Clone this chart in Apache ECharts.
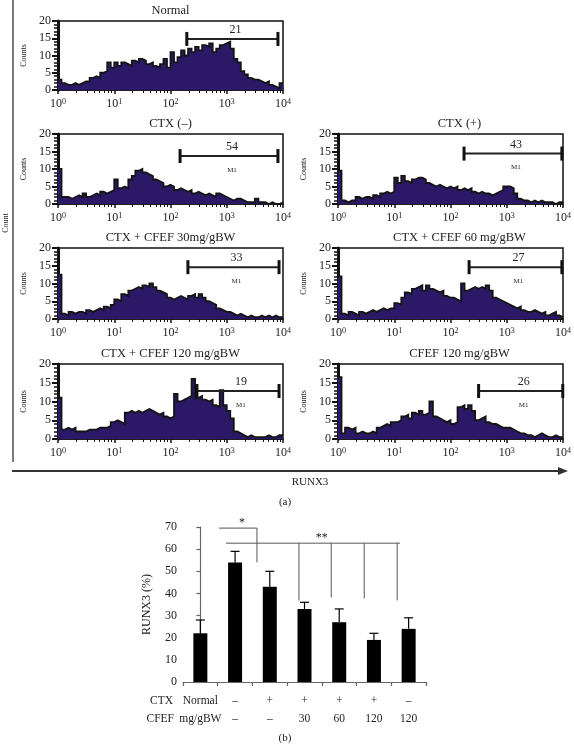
<!DOCTYPE html>
<html><head><meta charset="utf-8">
<script src="https://cdn.jsdelivr.net/npm/echarts@6/dist/echarts.min.js"></script>
<style>html,body{margin:0;padding:0;background:#fff}#c{width:574px;height:744px}</style>
</head><body><div id="c"></div>
<script>
// ---------- DATA ----------
// Histogram panel titles
const panelTitles = ['Normal','CTX (–)','CTX (+)','CTX + CFEF 30mg/gBW','CTX + CFEF 60 mg/gBW','CTX + CFEF 120 mg/gBW','CFEF 120 mg/gBW'];
// Counts per channel (64 log-spaced channels, 16 per decade, 10^0 .. 10^4)
const histNormal = [3,2,1.5,1.5,2,1.5,2,2.5, 2.5,3.5,4,3.5,5,5.5,8,6.5, 8,7,8,7.5,7,8.5,8,9, 8.5,7.5,8,7,6.5,7.5,9,6.5, 11,8,9.5,11.5,10,12,11,12.5, 11.5,13,12.5,13.5,11,12,13,13.5, 14,12,9,8,5.5,4.5,3.5,3, 3,2.5,2,2.5,1.5,1,0.5,2];
const histCtxNeg = [10,2,2,1.5,2,2.5,2,3, 2,2.5,3,2.5,3.5,3,3.5,4, 7,4.5,5,4.5,7,8,9.5,10, 9,8.5,8,7,6.5,6,5,5.5, 5,4,4.5,4,3.5,4,3,3.5, 3,2.5,3,2.5,2,3,2.5,2, 1.5,1,1.5,1.5,1,0.5,0.5,0.5, 1.5,0.5,0.5,0,0.5,0,0,0.5];
const histCtxPos = [9.5,1,0.5,1,1,2,1.5,2, 2,1.5,2.5,2,3,3.5,3,3.5, 7.5,6,8,6.5,6,7,7.5,7.5, 7,6,5.5,5,5.5,5,4.5,5, 4.5,5,4,4.5,4,4.5,3.5,3, 3.5,3,3,2.5,3,3.5,4,5, 5,4.5,3,1.5,1,1,0.5,1, 0.5,1,0.5,0.5,0.5,0,0.5,0.5];
const histCfef30 = [12.5,1.5,1,2,1.5,2,2,1.5, 2.5,2,2.5,3,2.5,3.5,3,4, 5.5,5,7,6.5,8,8.5,9,8.5, 9.5,9,10,9,8,7.5,7,6, 5.5,6,6.5,6,5.5,6.5,7,6, 7,6,5,4.5,4,3,2.5,2, 2,1.5,1,1.5,1,0.5,1,0.5, 0.5,1,0.5,1,0.5,1,0.5,0.5];
const histCfef60 = [12,1.5,1,2,1.5,1,2,1.5, 2,2.5,2,2.5,3,2.5,3,3, 4.5,4,6,7.5,7,8.5,9,9.5, 8,9.5,8.5,8,7.5,8,6.5,6, 6,5.5,5,10,8,8.5,9,8.5, 9,8.5,9.5,8,6,5.5,5,4.5, 4,3.5,3,3.5,2.5,2,2,2.5, 2,1.5,2,1,1.5,2,1,0.5];
const histCfef120 = [11,2.5,3,2.5,3,2,2,2, 2.5,2.5,2.5,3,3,3,3.5,4.5, 5,4.5,4,7,7.5,7,7.5,7, 7.5,8,7.5,7,6.5,7,6,5.5, 6,12,10,10.5,11,11.5,16,11, 11.5,10.5,10,10.5,9,8.5,13,9, 7.5,5.5,2,1.5,1,0.5,1,0.5, 0.5,0.5,0.5,1,0.5,0.5,1,1];
const histCfefOnly = [16.5,1.5,3,2.5,3,1.5,2,1.5, 1.5,2,1.5,3,3.5,4,3.5,4.5, 4.5,5,6,6.5,5.5,7,6.5,7.5, 6.5,7,10,6,5.5,5,4.5,5, 4,4.5,8.5,9,8,9,7.5,5, 5.5,6,4.5,4,4,3.5,3,3, 3,2.5,2,1.5,1.5,1,1,0.5, 1,1.5,1,0.5,0.5,1,0.5,0.5];
const histograms = [histNormal, histCtxNeg, histCtxPos, histCfef30, histCfef60, histCfef120, histCfefOnly];
// M1 marker gates (fluorescence units) and percent
const markerStart = [195,148,174,204,214,295,316];
const markerEnd   = [8130,8130,9550,8500,9550,8500,9900];
const markerLevel = [14.8,13.7,14.4,14.6,14.6,12.8,12.8];
const markerPct   = ['21','54','43','33','27','19','26'];
const markerHasM1 = [false,true,true,true,true,true,true];
// Histogram axis ticks
const histYTicks = [0,5,10,15,20];
const histXDecades = [0,1,2,3,4];

// Bar chart (b)
const barGroups = ['Normal','CTX','CTX+','CTX+30','CTX+60','CTX+120','CFEF120'];
const ctxRow  = ['Normal','–','+','+','+','+','–'];
const cfefRow = ['mg/gBW','–','–','30','60','120','120'];
const runx3Mean = [22,54,43,33,27,19,24];
const runx3ErrTop = [28,59,50,36,33,22,29];
const barYTicks = [0,10,20,30,40,50,60,70];
// significance brackets: [x1,y1,x2,y2] in (group index, %) units
const sigSegments = [
  [0.54,69.5,1.63,69.5],[1.63,69.5,1.63,54],
  [0.74,62.7,5.75,62.7],[2.84,62.7,2.84,36.8],[3.77,62.7,3.77,38.2],[4.72,62.7,4.72,37.7],[5.67,62.7,5.67,36.8]
];
const sigMarkPos = [[1.2,72.0],[3.5,65.0]];
const sigMarkText = ['*','**'];

// ---------- LAYOUT ----------
const FONT = "'Liberation Serif','DejaVu Serif',serif";
const TXT = '#222';
const colL = 58, colR = 338, colW = [225, 227];
const rows = [{top:21,h:69},{top:134,h:70},{top:248,h:71},{top:364,h:75}];
const panelPos = [[0,0],[0,1],[1,1],[0,2],[1,2],[0,3],[1,3]]; // [col,row]
const barGrid = {left:183, top:527, width:243, height:155};

const chart = echarts.init(document.getElementById('c'), null, {renderer:'canvas'});
const grids=[], xAxes=[], yAxes=[], series=[], graphic=[];

panelPos.forEach(([c,r],k)=>{
  const left = c===0?colL:colR, width = colW[c];
  const g = {left, top:rows[r].top, width, height:rows[r].h, show:true, borderColor:'#111', borderWidth:1.5, backgroundColor:'transparent', containLabel:false};
  grids.push(g);
  xAxes.push({type:'log', logBase:10, gridIndex:k, min:Math.pow(10,histXDecades[0]), max:Math.pow(10,histXDecades[histXDecades.length-1]),
    axisLine:{show:true, lineStyle:{color:'#111', width:1.5}},
    axisTick:{show:true, length:4, lineStyle:{color:'#111', width:1.5}},
    minorTick:{show:true, splitNumber:8, length:3, lineStyle:{color:'#111', width:1}},
    splitLine:{show:false}, minorSplitLine:{show:false},
    axisLabel:{margin:8, color:TXT, fontFamily:FONT, fontSize:12,
      formatter:v=>'{b|10}{s|'+Math.round(Math.log10(v))+'}',
      rich:{b:{fontFamily:FONT,fontSize:12,color:TXT}, s:{fontFamily:FONT,fontSize:8,color:TXT,verticalAlign:'top'}}}
  });
  yAxes.push({type:'value', gridIndex:k, min:histYTicks[0], max:histYTicks[histYTicks.length-1], interval:histYTicks[1]-histYTicks[0],
    axisLine:{show:true, lineStyle:{color:'#111', width:3}},
    axisTick:{show:true, length:6, lineStyle:{color:'#111', width:2}},
    minorTick:{show:true, splitNumber:5, length:4, lineStyle:{color:'#111', width:1.5}},
    splitLine:{show:false}, minorSplitLine:{show:false},
    axisLabel:{margin:7, color:TXT, fontFamily:FONT, fontSize:12},
    name:'Counts', nameLocation:'middle', nameGap:30, nameTextStyle:{fontFamily:FONT, fontSize:8, color:TXT}
  });
  const h = histograms[k];
  // explicit step outline: each channel spans [10^(i/16), 10^((i+1)/16)]
  const data = [];
  h.forEach((v,i)=>{ data.push([Math.pow(10,i/16), v]); data.push([Math.pow(10,(i+1)/16), v]); });
  series.push({type:'line', xAxisIndex:k, yAxisIndex:k, symbol:'none', data, clip:true,
    lineStyle:{color:'#141414', width:1.8, join:'miter'}, areaStyle:{color:'#2b1866', opacity:1, origin:'start'}, z:2});
  series.push({type:'custom', xAxisIndex:k, yAxisIndex:k, clip:false, z:5,
    data:[[markerStart[k], markerEnd[k], markerLevel[k]]],
    renderItem:(params, api)=>{
      const a = api.coord([api.value(0), api.value(2)]);
      const b = api.coord([api.value(1), api.value(2)]);
      const mid = (a[0]+b[0])/2 + 3;
      const ch = [
        {type:'line', shape:{x1:a[0],y1:a[1],x2:b[0],y2:b[1]}, style:{stroke:'#222', lineWidth:2}},
        {type:'line', shape:{x1:a[0],y1:a[1]-7,x2:a[0],y2:a[1]+7}, style:{stroke:'#111', lineWidth:3}},
        {type:'line', shape:{x1:b[0],y1:b[1]-7,x2:b[0],y2:b[1]+7}, style:{stroke:'#111', lineWidth:3}},
        {type:'text', x:mid, y:a[1]-9, style:{text:markerPct[k], font:'12px '+FONT, fill:TXT, align:'center', verticalAlign:'middle'}}
      ];
      if (markerHasM1[k]) ch.push({type:'text', x:mid, y:a[1]+14, style:{text:'M1', font:'7px '+FONT, fill:TXT, align:'center', verticalAlign:'middle'}});
      return {type:'group', children:ch};
    }});
  graphic.push({type:'text', x:left+width/2+(c===1?8:0), y:rows[r].top-10, style:{text:panelTitles[k], font:'12.5px '+FONT, fill:TXT, align:'center', verticalAlign:'middle'}});
});

// Bar chart grid
const bi = grids.length;
grids.push({left:barGrid.left, top:barGrid.top, width:barGrid.width, height:barGrid.height, containLabel:false});
xAxes.push({type:'category', gridIndex:bi, data:barGroups,
  axisLine:{lineStyle:{color:'#666', width:1.2}},
  axisTick:{show:true, length:4, lineStyle:{color:'#666', width:1.2}},
  axisLabel:{interval:0, margin:10, color:TXT, fontFamily:FONT, fontSize:11.5, lineHeight:18,
    formatter:(v,i)=>ctxRow[i]+'\n'+cfefRow[i]}});
xAxes.push({type:'value', gridIndex:bi, min:-0.5, max:barGroups.length-0.5, show:false});
yAxes.push({type:'value', gridIndex:bi, min:barYTicks[0], max:barYTicks[barYTicks.length-1], interval:barYTicks[1]-barYTicks[0],
  axisLine:{show:true, lineStyle:{color:'#666', width:1.2}},
  axisTick:{show:true, length:4, lineStyle:{color:'#666', width:1.2}},
  splitLine:{show:false},
  axisLabel:{margin:6, color:TXT, fontFamily:FONT, fontSize:12},
  name:'RUNX3 (%)', nameLocation:'middle', nameGap:30, nameTextStyle:{fontFamily:FONT, fontSize:12, color:TXT}});
series.push({type:'bar', xAxisIndex:bi, yAxisIndex:bi, data:runx3Mean, barWidth:14, itemStyle:{color:'#000'}, z:2});
series.push({type:'custom', xAxisIndex:bi, yAxisIndex:bi, z:3, clip:false,
  data:runx3Mean.map((m,i)=>[i,m,runx3ErrTop[i]]),
  renderItem:(params, api)=>{
    const a = api.coord([api.value(0), api.value(1)]);
    const b = api.coord([api.value(0), api.value(2)]);
    return {type:'group', children:[
      {type:'line', shape:{x1:a[0],y1:a[1],x2:b[0],y2:b[1]}, style:{stroke:'#000', lineWidth:1.2}},
      {type:'line', shape:{x1:b[0]-4.5,y1:b[1],x2:b[0]+4.5,y2:b[1]}, style:{stroke:'#000', lineWidth:1.2}}
    ]};
  }});
sigSegments.forEach(s=>{
  series.push({type:'line', xAxisIndex:bi+1, yAxisIndex:bi, symbol:'none', silent:true, z:4, clip:false,
    data:[[s[0],s[1]],[s[2],s[3]]], lineStyle:{color:'#555', width:1}});
});
series.push({type:'custom', xAxisIndex:bi+1, yAxisIndex:bi, clip:false, z:4,
  data:sigMarkPos,
  renderItem:(params, api)=>{
    const p = api.coord([api.value(0), api.value(1)]);
    return {type:'text', x:p[0], y:p[1], style:{text:sigMarkText[params.dataIndex], font:'12px '+FONT, fill:TXT, align:'center', verticalAlign:'middle'}};
  }});

// Free text & frame lines
graphic.push(
  {type:'line', shape:{x1:13,y1:0,x2:13,y2:462}, style:{stroke:'#333', lineWidth:1.3}},
  {type:'text', x:6, y:223, rotation:Math.PI/2, style:{text:'Count', font:'8px '+FONT, fill:TXT, align:'center', verticalAlign:'middle'}},
  {type:'line', shape:{x1:12,y1:471,x2:560,y2:471}, style:{stroke:'#333', lineWidth:2}},
  {type:'polygon', shape:{points:[[558,467],[568,471],[558,475]]}, style:{fill:'#333'}},
  {type:'text', x:310, y:482, style:{text:'RUNX3', font:'11px '+FONT, fill:TXT, align:'center', verticalAlign:'middle'}},
  {type:'text', x:285, y:502, style:{text:'(a)', font:'11px '+FONT, fill:TXT, align:'center', verticalAlign:'middle'}},
  {type:'text', x:173, y:701, style:{text:'CTX', font:'11.5px '+FONT, fill:TXT, align:'right', verticalAlign:'middle'}},
  {type:'text', x:174, y:719, style:{text:'CFEF', font:'11.5px '+FONT, fill:TXT, align:'right', verticalAlign:'middle'}},
  {type:'text', x:285, y:738, style:{text:'(b)', font:'11px '+FONT, fill:TXT, align:'center', verticalAlign:'middle'}}
);

chart.setOption({animation:false, backgroundColor:'#fff', grid:grids, xAxis:xAxes, yAxis:yAxes, series, graphic});
</script></body></html>
